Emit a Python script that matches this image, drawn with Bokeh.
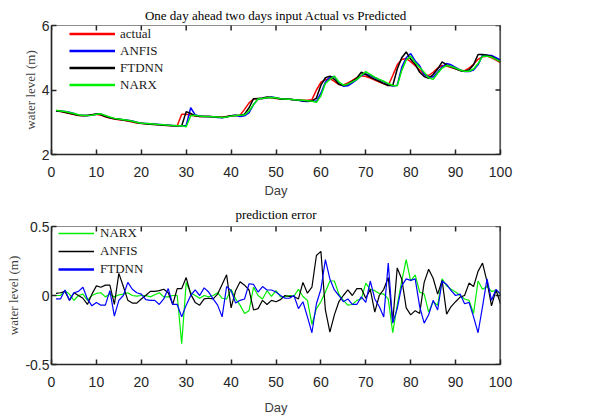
import math
from bokeh.plotting import figure
from bokeh.layouts import column
from bokeh.models import FixedTicker, Legend, LegendItem, Span
from bokeh.embed import file_html
from bokeh.resources import INLINE

days = list(range(1, 101))

actual = [3.35, 3.33, 3.30, 3.27, 3.24, 3.21, 3.20, 3.21, 3.23, 3.25,
          3.22, 3.17, 3.13, 3.10, 3.08, 3.06, 3.04, 3.01, 2.98, 2.96,
          2.95, 2.94, 2.93, 2.92, 2.91, 2.90, 2.89, 2.89, 3.25, 3.25,
          3.22, 3.19, 3.18, 3.18, 3.18, 3.17, 3.16, 3.16, 3.18, 3.20,
          3.21, 3.22, 3.40, 3.60, 3.72, 3.73, 3.74, 3.76, 3.76, 3.74,
          3.72, 3.71, 3.71, 3.70, 3.69, 3.68, 3.68, 3.70, 4.00, 4.24,
          4.32, 4.35, 4.27, 4.17, 4.16, 4.22, 4.30, 4.38, 4.44, 4.42,
          4.37, 4.31, 4.25, 4.19, 4.14, 4.45, 4.78, 4.95, 4.97, 4.88,
          4.75, 4.62, 4.48, 4.45, 4.55, 4.68, 4.76, 4.74, 4.70, 4.66,
          4.61, 4.60, 4.68, 4.80, 4.95, 5.03, 5.05, 5.00, 4.93, 4.85]

anfis = [3.36, 3.35, 3.33, 3.31, 3.27, 3.22, 3.21, 3.21, 3.22, 3.25,
         3.25, 3.20, 3.15, 3.12, 3.10, 3.08, 3.06, 3.04, 3.00, 2.97,
         2.96, 2.95, 2.94, 2.93, 2.92, 2.91, 2.90, 2.89, 2.89, 2.90,
         3.45, 3.23, 3.19, 3.18, 3.18, 3.17, 3.15, 3.14, 3.16, 3.20,
         3.22, 3.18, 3.20, 3.30, 3.55, 3.72, 3.74, 3.76, 3.78, 3.76,
         3.73, 3.72, 3.71, 3.70, 3.68, 3.65, 3.64, 3.66, 3.65, 3.90,
         4.25, 4.40, 4.42, 4.20, 4.12, 4.13, 4.22, 4.32, 4.45, 4.50,
         4.45, 4.38, 4.32, 4.25, 4.18, 4.12, 4.15, 4.70, 5.00, 5.13,
         4.90, 4.75, 4.48, 4.42, 4.40, 4.55, 4.72, 4.82, 4.78, 4.70,
         4.62, 4.57, 4.57, 4.62, 4.78, 5.08, 5.08, 5.07, 5.00, 4.93]

ftdnn = [3.36, 3.34, 3.31, 3.28, 3.25, 3.22, 3.21, 3.21, 3.23, 3.26,
         3.24, 3.18, 3.14, 3.11, 3.09, 3.07, 3.05, 3.02, 2.99, 2.97,
         2.95, 2.94, 2.93, 2.92, 2.91, 2.90, 2.89, 2.89, 2.89, 3.33,
         3.27, 3.20, 3.18, 3.18, 3.18, 3.17, 3.16, 3.15, 3.17, 3.20,
         3.21, 3.22, 3.25, 3.45, 3.73, 3.74, 3.75, 3.78, 3.77, 3.75,
         3.72, 3.71, 3.71, 3.70, 3.69, 3.67, 3.66, 3.66, 3.75, 4.15,
         4.38, 4.43, 4.33, 4.18, 4.14, 4.18, 4.27, 4.37, 4.55, 4.48,
         4.40, 4.33, 4.27, 4.20, 4.14, 4.14, 4.65, 5.00, 5.18, 4.95,
         4.80, 4.55, 4.42, 4.36, 4.48, 4.65, 4.87, 4.78, 4.72, 4.66,
         4.60, 4.58, 4.62, 4.78, 5.10, 5.10, 5.08, 5.04, 4.96, 4.88]

narx = [3.37, 3.35, 3.33, 3.30, 3.27, 3.23, 3.21, 3.21, 3.22, 3.25,
        3.26, 3.21, 3.16, 3.12, 3.10, 3.08, 3.06, 3.03, 3.00, 2.97,
        2.96, 2.95, 2.94, 2.93, 2.92, 2.91, 2.90, 2.89, 2.89, 2.86,
        3.20, 3.22, 3.19, 3.18, 3.18, 3.17, 3.16, 3.15, 3.16, 3.19,
        3.21, 3.22, 3.23, 3.35, 3.55, 3.72, 3.74, 3.76, 3.77, 3.76,
        3.73, 3.72, 3.71, 3.70, 3.69, 3.68, 3.67, 3.65, 3.62, 3.82,
        4.20, 4.33, 4.43, 4.25, 4.15, 4.18, 4.25, 4.33, 4.45, 4.57,
        4.48, 4.40, 4.33, 4.27, 4.20, 4.14, 4.13, 4.60, 4.93, 5.05,
        4.85, 4.70, 4.55, 4.38, 4.33, 4.52, 4.68, 4.76, 4.73, 4.68,
        4.62, 4.58, 4.58, 4.65, 4.82, 5.05, 5.05, 5.02, 4.95, 4.88]

err_narx = [0.0, 0.0, 0.035, 0.01, -0.035, 0.0, 0.01, -0.035, 0.0, 0.015,
            0.02, -0.01, 0.01, -0.01, 0.005, 0.01, 0.02, 0.0, -0.005, 0.0,
            0.0, -0.01, 0.005, 0.02, -0.01, -0.01, 0.0, 0.0, -0.35, 0.095,
            0.02, 0.0, -0.02, 0.0, -0.01, 0.0, 0.02, -0.02, -0.025, 0.045,
            -0.025, -0.07, -0.13, -0.11, 0.06, 0.0, -0.025, 0.035, -0.007, 0.035,
            -0.01, -0.01, 0.0, -0.005, 0.045, -0.007, -0.035, -0.21, -0.095, -0.045,
            0.025, 0.105, 0.105, 0.01, -0.035, -0.07, -0.065, -0.035, -0.025, 0.09,
            0.045, 0.035, 0.015, 0.01, -0.025, -0.27, -0.07, 0.105, 0.26, 0.105,
            0.15, 0.025, 0.01, -0.12, -0.045, -0.07, 0.12, 0.07, 0.045, 0.025,
            0.0, -0.025, -0.035, -0.13, 0.105, 0.045, 0.065, 0.03, 0.035, 0.01]

err_anfis = [0.016, 0.02, 0.03, -0.035, 0.02, 0.0, -0.02, -0.065, 0.01, 0.07,
             0.06, 0.075, 0.075, -0.065, 0.16, 0.065, -0.035, -0.055, -0.055, -0.025,
             0.0, 0.03, 0.03, 0.035, 0.045, 0.02, -0.065, 0.05, 0.05, 0.13,
             0.01, -0.05, -0.07, -0.025, -0.02, -0.025, 0.01, 0.08, 0.15, -0.09,
             0.035, 0.1, 0.075, 0.04, -0.105, -0.095, -0.035, -0.065, -0.035, -0.045,
             -0.03, 0.0, -0.007, -0.007, -0.025, 0.095, 0.017, 0.06, 0.29, 0.32,
             -0.105, -0.265, -0.14, -0.045, 0.0, 0.04, 0.0, 0.05, 0.05, -0.02,
             0.045, -0.12, 0.0, 0.045, 0.13, -0.19, 0.2, 0.12, -0.09, -0.14,
             -0.11, -0.13, 0.095, 0.19, 0.125, 0.01, 0.11, -0.135, -0.08, -0.045,
             -0.012, 0.0, 0.09, 0.065, 0.175, 0.235, 0.1, -0.075, 0.04, -0.06]

err_ftdnn = [-0.025, -0.025, 0.04, -0.035, 0.02, 0.03, 0.06, -0.025, -0.075, -0.05,
             -0.07, -0.07, 0.035, -0.15, -0.035, 0.0, 0.095, 0.045, 0.02, 0.01,
             -0.03, -0.035, -0.035, -0.065, -0.025, 0.05, -0.065, -0.065, -0.155, -0.07,
             0.0, 0.04, 0.0, 0.055, 0.025, -0.025, -0.07, -0.155, 0.065, 0.035,
             -0.055, -0.035, -0.025, 0.085, 0.08, 0.025, 0.065, 0.04, 0.04, 0.025,
             0.0, -0.02, -0.02, 0.0, -0.095, -0.045, -0.155, -0.27, -0.06, 0.045,
             0.26, 0.12, 0.04, 0.0, -0.045, -0.025, -0.065, -0.065, -0.01, -0.05,
             0.105, -0.025, -0.08, -0.155, 0.235, -0.2, -0.095, 0.07, 0.12, 0.11,
             0.12, -0.08, -0.2, -0.14, -0.035, -0.105, 0.105, 0.08, 0.035, 0.0,
             0.01, -0.06, -0.05, -0.155, -0.27, -0.08, 0.12, -0.035, 0.045, 0.01]

x_ticks = list(range(0, 101, 10))
top_yticks = [2, 4, 6]
bot_yticks = [-0.5, 0, 0.5]
bot_ylabels = {-0.5: "-0.5", 0: "0", 0.5: "0.5"}

SERIF = "Liberation Serif"
SANS = "Liberation Sans"
AXC = "#262626"
NAN = float("nan")


def style(p, yticks, y_top, x_right, title_standoff, day_standoff, overrides=None):
    p.title.text_font = SERIF
    p.title.text_font_size = "13px"
    p.title.text_font_style = "normal"
    p.title.align = "center"
    p.title.text_color = "#000000"
    p.title.standoff = title_standoff
    p.title.text_line_height = 1.0
    p.xgrid.visible = False
    p.ygrid.visible = False
    p.outline_line_color = "#8c8c8c"
    p.outline_line_width = 1.2
    for ax in (p.xaxis[0], p.yaxis[0]):
        ax.major_tick_in = 5
        ax.major_tick_out = 0
        ax.minor_tick_line_color = None
        ax.axis_line_color = AXC
        ax.axis_line_width = 1.6
        ax.major_tick_line_color = AXC
        ax.major_tick_line_width = 1.5
        ax.major_label_text_font = SANS
        ax.major_label_text_font_size = "14px"
        ax.major_label_text_color = AXC
        ax.axis_label_text_font_style = "normal"
    p.xaxis[0].ticker = FixedTicker(ticks=x_ticks)
    p.yaxis[0].ticker = FixedTicker(ticks=yticks)
    if overrides:
        p.yaxis[0].major_label_overrides = overrides
    p.xaxis[0].axis_label = "Day"
    p.xaxis[0].axis_label_text_font = SANS
    p.xaxis[0].axis_label_text_font_size = "13px"
    p.xaxis[0].axis_label_text_color = "#404040"
    p.xaxis[0].axis_label_standoff = day_standoff
    p.xaxis[0].major_label_standoff = 12
    p.yaxis[0].axis_label = "water level (m)"
    p.yaxis[0].axis_label_text_font = SERIF
    p.yaxis[0].axis_label_text_font_size = "13px"
    p.yaxis[0].axis_label_text_color = "#404040"
    p.yaxis[0].axis_label_standoff = 1
    p.yaxis[0].major_label_standoff = 2
    # mirrored inward tick marks on the top and right edges (clipped to the frame)
    p.scatter(x_ticks, [y_top] * len(x_ticks), marker="dash", size=10, angle=math.pi / 2,
              line_color=AXC, line_width=1.5)
    p.scatter([x_right] * len(yticks), yticks, marker="dash", size=10,
              line_color=AXC, line_width=1.5)
    p.add_layout(Span(location=x_right, dimension="height", line_color=AXC, line_width=2))


# ---------------- top figure ----------------
p1 = figure(width=616, height=200, x_range=(0, 100), y_range=(2, 6),
            title="One day ahead two days input Actual vs Predicted",
            output_backend="svg", toolbar_location=None,
            min_border_left=49, min_border_right=116, min_border_top=25, min_border_bottom=45)
style(p1, top_yticks, 6, 100, 5, 3)

p1.line(days, actual, line_color="#ff0000", line_width=1.5)
p1.line(days, anfis, line_color="#0000ff", line_width=1.5)
p1.line(days, ftdnn, line_color="#000000", line_width=1.5)
p1.line(days, narx, line_color="#00ee00", line_width=1.5)

# legend proxies (thicker lines like the reference)
l_act = p1.line([NAN, NAN], [NAN, NAN], line_color="#ff0000", line_width=2.5)
l_anf = p1.line([NAN, NAN], [NAN, NAN], line_color="#0000ff", line_width=2.5)
l_ftd = p1.line([NAN, NAN], [NAN, NAN], line_color="#000000", line_width=2.5)
l_nar = p1.line([NAN, NAN], [NAN, NAN], line_color="#00ee00", line_width=2.5)

leg1 = Legend(items=[LegendItem(label="actual", renderers=[l_act]),
                     LegendItem(label="ANFIS", renderers=[l_anf]),
                     LegendItem(label="FTDNN", renderers=[l_ftd]),
                     LegendItem(label="NARX", renderers=[l_nar])],
              location=(18, 61), margin=0, padding=0, spacing=0,
              glyph_width=46, glyph_height=17, label_height=17, label_standoff=5,
              label_text_font=SERIF, label_text_font_size="13px", label_text_color="#1a1a1a",
              background_fill_alpha=0, border_line_color=None)
p1.add_layout(leg1, "center")

# ---------------- bottom figure ----------------
p2 = figure(width=616, height=217, x_range=(0, 100), y_range=(-0.5, 0.5),
            title="prediction error",
            output_backend="svg", toolbar_location=None,
            min_border_left=51, min_border_right=114, min_border_top=26, min_border_bottom=49)
style(p2, bot_yticks, 0.5, 100, 9, 10, bot_ylabels)

p2.line(days, err_narx, line_color="#00ee00", line_width=1.2)
p2.line(days, err_anfis, line_color="#000000", line_width=1.2)
p2.line(days, err_ftdnn, line_color="#0000ff", line_width=1.2)

m_nar = p2.line([NAN, NAN], [NAN, NAN], line_color="#00ee00", line_width=1.5)
m_anf = p2.line([NAN, NAN], [NAN, NAN], line_color="#000000", line_width=1.5)
m_ftd = p2.line([NAN, NAN], [NAN, NAN], line_color="#0000ff", line_width=2.5)

leg2 = Legend(items=[LegendItem(label="NARX", renderers=[m_nar]),
                     LegendItem(label="ANFIS", renderers=[m_anf]),
                     LegendItem(label="FTDNN", renderers=[m_ftd])],
              location=(7, 86), margin=0, padding=0, spacing=0,
              glyph_width=36, glyph_height=18, label_height=18, label_standoff=6,
              label_text_font=SERIF, label_text_font_size="13px", label_text_color="#1a1a1a",
              background_fill_alpha=0, border_line_color=None)
p2.add_layout(leg2, "center")

layout = column(p1, p2, spacing=0)
open("out.html", "w").write(file_html(layout, INLINE))
